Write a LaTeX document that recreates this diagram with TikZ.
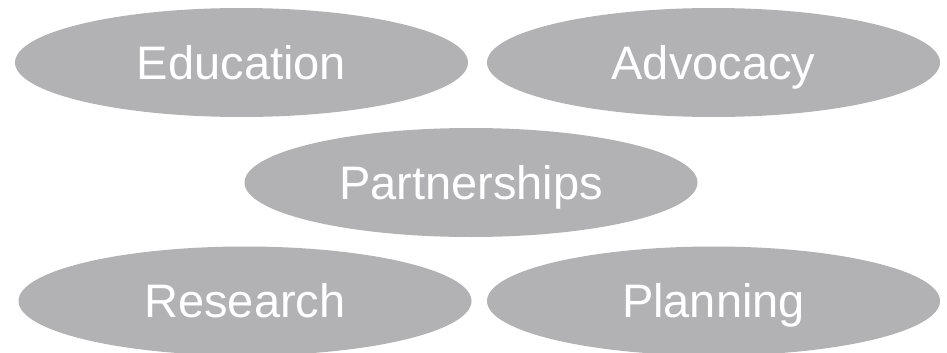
\documentclass[tikz,border=0pt]{standalone}
\usepackage{fontspec}
\setmainfont{Liberation Sans}
\usetikzlibrary{shapes.geometric}
\definecolor{pillgray}{RGB}{178,178,180}
\begin{document}
\begin{tikzpicture}[x=1pt,y=-1pt,
  pill/.style={ellipse, fill=pillgray, draw=none, inner sep=0pt,
    minimum width=453pt, minimum height=109pt,
    text=white, font=\fontsize{47}{50}\selectfont,
    text height=33.7pt, text depth=0pt}]
  \useasboundingbox (0,0) rectangle (947,353);
  \node[pill] (edu) at (241.5,62.5) {Education};
  \node[pill] (adv) at (713.5,62.5) {Advocacy};
  \node[pill] (par) at (471,182.5) {Partnerships};
  \node[pill] (res) at (245,301) {Research};
  \node[pill] (pla) at (713.5,301) {Planning};
\end{tikzpicture}
\end{document}
